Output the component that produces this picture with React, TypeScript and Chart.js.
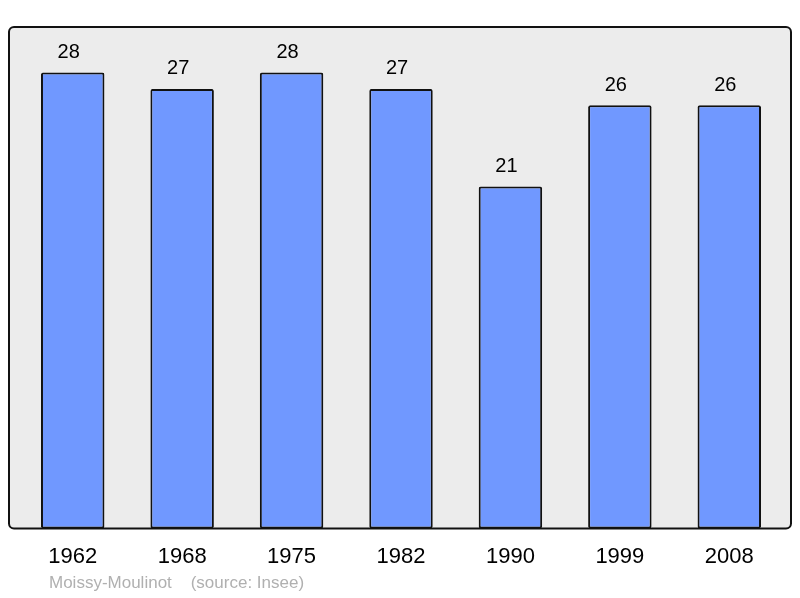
import { useEffect, useRef } from "react";
import Chart from "chart.js/auto";
import type { Plugin } from "chart.js";

const years = ["1962", "1968", "1975", "1982", "1990", "1999", "2008"];
const population = [28, 27, 28, 27, 21, 26, 26];
const footerText = "Moissy-Moulinot    (source: Insee)";

const FONT = "'Liberation Sans', Arial, sans-serif";

// grey panel with a dark rounded border behind the bars
const framePlugin: Plugin<"bar"> = {
  id: "frame",
  beforeDatasetsDraw(chart) {
    const { ctx, chartArea } = chart;
    ctx.save();
    ctx.beginPath();
    ctx.roundRect(chartArea.left - 9, chartArea.top, chartArea.width + 16, chartArea.height, 5);
    ctx.fillStyle = "#ececec";
    ctx.fill();
    ctx.restore();
  },
  afterDatasetsDraw(chart) {
    const { ctx, chartArea } = chart;
    ctx.save();
    ctx.beginPath();
    ctx.roundRect(chartArea.left - 9, chartArea.top, chartArea.width + 16, chartArea.height, 5);
    ctx.lineWidth = 2;
    ctx.strokeStyle = "#111";
    ctx.stroke();
    ctx.restore();
  },
};

const valueLabels: Plugin<"bar"> = {
  id: "valueLabels",
  afterDatasetsDraw(chart) {
    const { ctx } = chart;
    const meta = chart.getDatasetMeta(0);
    ctx.save();
    ctx.font = `20px ${FONT}`;
    ctx.fillStyle = "#000";
    ctx.textAlign = "center";
    ctx.textBaseline = "middle";
    meta.data.forEach((bar, i) => {
      ctx.fillText(String(population[i]), bar.x - 4, bar.y - 20);
    });
    ctx.restore();
  },
};

export default function App() {
  const canvasRef = useRef<HTMLCanvasElement>(null);

  useEffect(() => {
    if (!canvasRef.current) return;
    const chart = new Chart(canvasRef.current, {
      type: "bar",
      data: {
        labels: years,
        datasets: [
          {
            data: population,
            backgroundColor: "#7098ff",
            borderColor: "#111",
            borderWidth: 2,
            borderRadius: 2,
            borderSkipped: false,
            barPercentage: 0.58,
            categoryPercentage: 1,
          },
        ],
      },
      options: {
        animation: false,
        responsive: true,
        maintainAspectRatio: false,
        layout: { padding: { left: 18, right: 16, top: 27, bottom: 13 } },
        plugins: {
          legend: { display: false },
          tooltip: { enabled: false },
        },
        scales: {
          x: {
            grid: { display: false, drawTicks: false },
            border: { display: false },
            ticks: {
              color: "#000",
              padding: 15,
              font: { family: FONT, size: 22 },
            },
          },
          y: {
            display: false,
            min: 0,
            max: 30.8,
          },
        },
      },
      plugins: [framePlugin, valueLabels],
    });
    return () => chart.destroy();
  }, []);

  return (
    <div style={{ position: "fixed", left: 0, top: 0, width: 800, height: 598, background: "#fff" }}>
      <canvas ref={canvasRef} />
      <div
        style={{
          position: "absolute",
          left: 49,
          top: 573,
          fontFamily: FONT,
          fontSize: 17,
          color: "#b0b0b0",
          whiteSpace: "pre",
        }}
      >
        {footerText}
      </div>
    </div>
  );
}
